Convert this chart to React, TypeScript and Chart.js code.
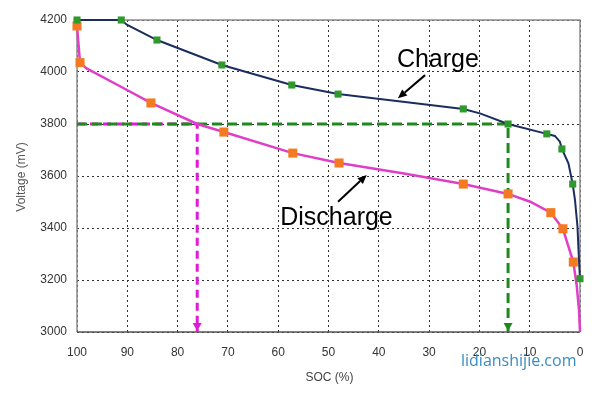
import React, { useEffect, useRef } from "react";
import { Chart, registerables } from "chart.js";

Chart.register(...registerables);

// ---- Data (SOC %, voltage mV) ----
const chargeLineSoc = [100, 91.2, 90.1, 84.1, 71.2, 57.3, 48.1, 39.8, 29.8, 23.2, 19.9, 14.3, 6.6, 5.0, 4.0, 3.6, 2.3, 1.45, 1.0, 0.5, 0.14, 0];
const chargeLineMv = [4200, 4200, 4182, 4123, 4027, 3950, 3915, 3896, 3873, 3858, 3841, 3800, 3762, 3754, 3732, 3704, 3649, 3569, 3508, 3405, 3251, 3205];
const chargeMarkSoc = [100, 91.2, 84.1, 71.2, 57.3, 48.1, 23.2, 14.3, 6.6, 3.6, 1.45, 0];
const chargeMarkMv = [4200, 4200, 4123, 4027, 3950, 3915, 3858, 3800, 3762, 3704, 3569, 3205];

const dischargeLineSoc = [100, 99.4, 98.1, 92, 85.3, 76.1, 70.8, 57.1, 47.9, 35, 23.2, 14.3, 9.9, 5.8, 3.4, 1.33, 0.66, 0.2, 0];
const dischargeLineMv = [4177, 4036, 4014, 3951, 3881, 3800, 3769, 3688, 3650, 3610, 3569, 3531, 3501, 3459, 3397, 3269, 3180, 3085, 3000];
const dischargeMarkSoc = [100, 99.4, 85.3, 70.8, 57.1, 47.9, 23.2, 14.3, 5.8, 3.4, 1.33];
const dischargeMarkMv = [4177, 4036, 3881, 3769, 3688, 3650, 3569, 3531, 3459, 3397, 3269];

// guide lines at 3800 mV
const chargeGuideSoc = [100, 14.3, 14.3];
const chargeGuideMv = [3800, 3800, 3000];
const dischargeGuideSoc = [100, 76.1, 76.1];
const dischargeGuideMv = [3800, 3800, 3000];

// axes
const xMin = 0, xMax = 100, xStep = 10;
const yMin = 3000, yMax = 4200, yStep = 200;
const xTitle = "SOC (%)";
const yTitle = "Voltage (mV)";

// text annotations (data coordinates)
const chargeLabel = { text: "Charge", soc: 36.4, mv: 4020, fromSoc: 30.8, fromMv: 3988, toSoc: 36.2, toMv: 3899 };
const dischargeLabel = { text: "Discharge", soc: 59.6, mv: 3413, fromSoc: 48.1, fromMv: 3501, toSoc: 42.4, toMv: 3604 };
const watermark = "lidianshijie.com";

const pts = (xs: number[], ys: number[]) => xs.map((x, i) => ({ x, y: ys[i] }));

const FONT = 'Arial, "Liberation Sans", sans-serif';

function arrow(ctx: CanvasRenderingContext2D, x1: number, y1: number, x2: number, y2: number, color: string, lw: number, head: number, headW: number) {
  const ang = Math.atan2(y2 - y1, x2 - x1);
  const bx = x2 - Math.cos(ang) * head;
  const by = y2 - Math.sin(ang) * head;
  ctx.save();
  ctx.strokeStyle = color;
  ctx.fillStyle = color;
  ctx.lineWidth = lw;
  ctx.beginPath();
  ctx.moveTo(x1, y1);
  ctx.lineTo(bx, by);
  ctx.stroke();
  ctx.beginPath();
  ctx.moveTo(x2, y2);
  ctx.lineTo(bx + Math.sin(ang) * headW / 2, by - Math.cos(ang) * headW / 2);
  ctx.lineTo(bx - Math.sin(ang) * headW / 2, by + Math.cos(ang) * headW / 2);
  ctx.closePath();
  ctx.fill();
  ctx.restore();
}

const overlay = {
  id: "overlay",
  beforeDraw(chart: any) {
    const ctx = chart.ctx;
    ctx.save();
    ctx.fillStyle = "#ffffff";
    ctx.fillRect(0, 0, chart.width, chart.height);
    ctx.restore();
  },
  beforeDatasetsDraw(chart: any) {
    const { ctx, chartArea: a } = chart;
    ctx.save();
    ctx.lineWidth = 1.5;
    ctx.strokeStyle = "#8a8a8a";
    ctx.beginPath();
    ctx.moveTo(a.left, a.bottom);
    ctx.lineTo(a.left, a.top);
    ctx.lineTo(a.right, a.top);
    ctx.lineTo(a.right, a.bottom);
    ctx.stroke();
    ctx.strokeStyle = "#555555";
    ctx.beginPath();
    ctx.moveTo(a.left, a.bottom);
    ctx.lineTo(a.right, a.bottom);
    ctx.stroke();
    ctx.restore();
  },
  afterDatasetsDraw(chart: any) {
    const { ctx } = chart;
    const xs = chart.scales.x, ys = chart.scales.y;
    // guide arrowheads
    const heads = [
      { soc: chargeGuideSoc[2], mv: chargeGuideMv[2], color: "#1e8a1e" },
      { soc: dischargeGuideSoc[2], mv: dischargeGuideMv[2], color: "#e01ad8" },
    ];
    heads.forEach((h) => {
      const px = xs.getPixelForValue(h.soc);
      const py = ys.getPixelForValue(h.mv) - 1;
      ctx.save();
      ctx.fillStyle = h.color;
      ctx.beginPath();
      ctx.moveTo(px, py);
      ctx.lineTo(px - 4.5, py - 8);
      ctx.lineTo(px + 4.5, py - 8);
      ctx.closePath();
      ctx.fill();
      ctx.restore();
    });
    // text labels + arrows
    [chargeLabel, dischargeLabel].forEach((l) => {
      ctx.save();
      ctx.fillStyle = "#000";
      ctx.font = `25px ${FONT}`;
      ctx.textAlign = "left";
      ctx.textBaseline = "alphabetic";
      ctx.fillText(l.text, xs.getPixelForValue(l.soc), ys.getPixelForValue(l.mv));
      ctx.restore();
      arrow(
        ctx,
        xs.getPixelForValue(l.fromSoc), ys.getPixelForValue(l.fromMv),
        xs.getPixelForValue(l.toSoc), ys.getPixelForValue(l.toMv),
        "#000", 2, 9, 8
      );
    });
  },
  afterDraw(chart: any) {
    const { ctx, chartArea: a } = chart;
    ctx.save();
    ctx.fillStyle = "#444";
    ctx.font = `12px ${FONT}`;
    ctx.textAlign = "center";
    ctx.textBaseline = "middle";
    ctx.fillText(xTitle, (a.left + a.right) / 2 + 1, 378);
    ctx.translate(22, (a.top + a.bottom) / 2 + 1);
    ctx.rotate(-Math.PI / 2);
    ctx.fillStyle = "#555";
    ctx.fillText(yTitle, 0, 0);
    ctx.restore();

    ctx.save();
    ctx.fillStyle = "#3a8cc4";
    ctx.font = `16px "Open Sans", sans-serif`;
    ctx.textAlign = "left";
    ctx.textBaseline = "alphabetic";
    ctx.fillText(watermark, 461, 366);
    ctx.restore();
  },
};

export default function App() {
  const ref = useRef<HTMLCanvasElement>(null);
  useEffect(() => {
    if (!ref.current) return;
    const chart = new Chart(ref.current, {
      type: "line",
      data: {
        datasets: [
          {
            label: "Charge markers",
            data: pts(chargeMarkSoc, chargeMarkMv),
            showLine: false,
            clip: false,
            pointStyle: "rect",
            pointRadius: 5,
            pointBorderWidth: 0,
            pointBackgroundColor: "#2e9a2e",
            pointBorderColor: "#2e9a2e",
          },
          {
            label: "Discharge markers",
            data: pts(dischargeMarkSoc, dischargeMarkMv),
            showLine: false,
            clip: false,
            pointStyle: "rect",
            pointRadius: 6.4,
            pointBorderWidth: 0,
            pointBackgroundColor: "#f47a22",
            pointBorderColor: "#f47a22",
          },
          {
            label: "Charge",
            data: pts(chargeLineSoc, chargeLineMv),
            clip: false,
            borderColor: "#1b2d5e",
            borderWidth: 2,
            pointRadius: 0,
            tension: 0,
            fill: false,
          },
          {
            label: "Discharge",
            data: pts(dischargeLineSoc, dischargeLineMv),
            clip: false,
            borderColor: "#df3fc6",
            borderWidth: 2.5,
            pointRadius: 0,
            tension: 0,
            fill: false,
          },
          {
            label: "Charge guide",
            data: pts(chargeGuideSoc, chargeGuideMv),
            borderColor: "#1e8a1e",
            borderWidth: 3,
            borderDash: [10, 5],
            pointRadius: 0,
            tension: 0,
            fill: false,
          },
          {
            label: "Discharge guide",
            data: pts(dischargeGuideSoc, dischargeGuideMv),
            borderColor: "#e01ad8",
            borderWidth: 3,
            borderDash: [8, 5],
            pointRadius: 0,
            tension: 0,
            fill: false,
          },
        ],
      },
      options: {
        responsive: false,
        animation: false,
        events: [],
        layout: { padding: { top: 20, right: 20, left: 0, bottom: 0 } },
        plugins: { legend: { display: false }, tooltip: { enabled: false } },
        scales: {
          x: {
            type: "linear",
            reverse: true,
            min: xMin,
            max: xMax,
            afterFit: (s: any) => { s.height = 64; },
            ticks: {
              stepSize: xStep,
              padding: 13,
              color: "#333",
              font: { family: FONT, size: 12 },
              maxRotation: 0,
              autoSkip: false,
              callback: (v: any) => String(v),
            },
            grid: { color: "#333", lineWidth: 1, drawTicks: false },
            border: { display: false, dash: [2, 3] },
          },
          y: {
            type: "linear",
            min: yMin,
            max: yMax,
            afterFit: (s: any) => { s.width = 77; },
            ticks: {
              stepSize: yStep,
              padding: 10,
              color: "#333",
              font: { family: FONT, size: 12 },
              callback: (v: any) => String(v),
            },
            grid: { color: "#333", lineWidth: 1, drawTicks: false },
            border: { display: false, dash: [2, 3] },
          },
        },
      } as any,
      plugins: [overlay],
    });
    return () => chart.destroy();
  }, []);
  return (
    <div style={{ position: "fixed", left: 0, top: 0, width: 600, height: 396, background: "#fff" }}>
      <canvas ref={ref} width={600} height={396} style={{ display: "block" }} />
    </div>
  );
}
